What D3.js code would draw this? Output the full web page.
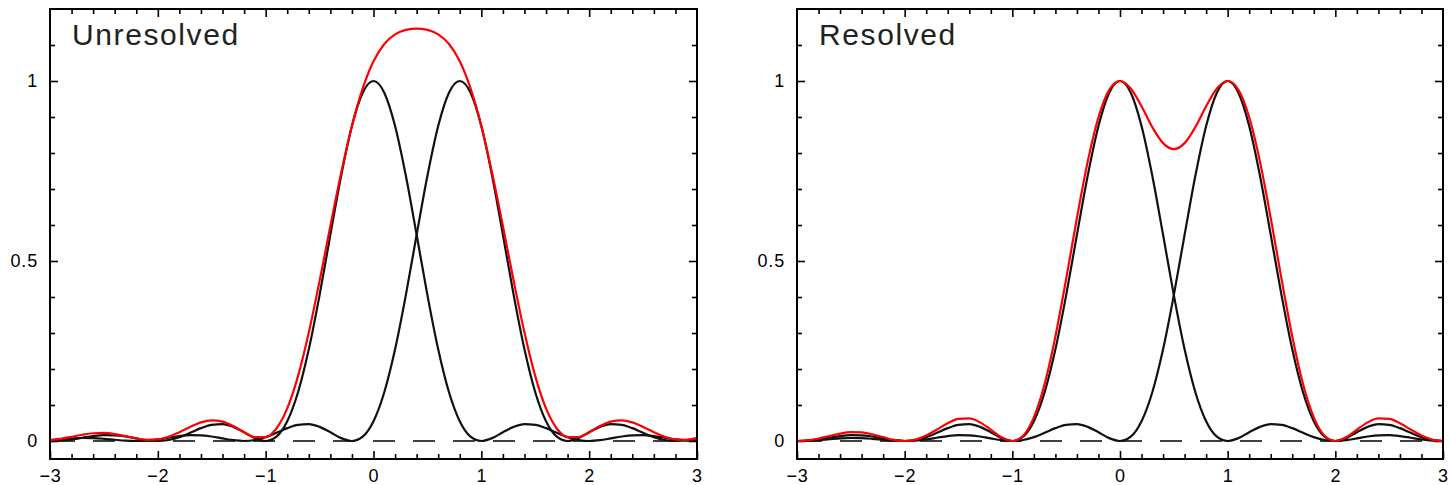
<!DOCTYPE html>
<html>
<head>
<meta charset="utf-8">
<script src="https://cdn.jsdelivr.net/npm/d3@7"></script>
<style>
  body { margin: 0; background: #fff; }
  svg { display: block; }
</style>
</head>
<body>
<div id="chart"></div>
<script>
// Sample positions along the x axis (shared by every curve)
const xs = [
  -3.0, -2.9, -2.8, -2.7, -2.6, -2.5, -2.4, -2.3, -2.2, -2.1,
  -2.0, -1.9, -1.8, -1.7, -1.6, -1.5, -1.4, -1.3, -1.2, -1.1,
  -1.0, -0.9, -0.8, -0.7, -0.6, -0.5, -0.4, -0.3, -0.2, -0.1,
  0.0,
  0.1, 0.2, 0.3, 0.4, 0.5, 0.6, 0.7, 0.8, 0.9, 1.0,
  1.1, 1.2, 1.3, 1.4, 1.5, 1.6, 1.7, 1.8, 1.9, 2.0,
  2.1, 2.2, 2.3, 2.4, 2.5, 2.6, 2.7, 2.8, 2.9, 3.0,
];

// Pattern centred on 0 (used in both panels)
const centred = [
  0, 0.0012, 0.0045, 0.0091, 0.0136, 0.0162, 0.0159, 0.0125, 0.0072, 0.0022,
  0, 0.0027, 0.0108, 0.0229, 0.0358, 0.0450, 0.0468, 0.0392, 0.0243, 0.0080,
  0, 0.0119, 0.0547, 0.1353, 0.2546, 0.4053, 0.5728, 0.7368, 0.8751, 0.9675,
  1,
  0.9675, 0.8751, 0.7368, 0.5728, 0.4053, 0.2546, 0.1353, 0.0547, 0.0119, 0,
  0.0080, 0.0243, 0.0392, 0.0468, 0.0450, 0.0358, 0.0229, 0.0108, 0.0027, 0,
  0.0022, 0.0072, 0.0125, 0.0159, 0.0162, 0.0136, 0.0091, 0.0045, 0.0012, 0,
];

// Second pattern, centred on 0.8 (unresolved)
const shifted08 = [
  0.0024, 0.0048, 0.0071, 0.0083, 0.0079, 0.0061, 0.0034, 0.0010, 0, 0.0012,
  0.0045, 0.0091, 0.0136, 0.0162, 0.0159, 0.0125, 0.0072, 0.0022, 0, 0.0027,
  0.0108, 0.0229, 0.0358, 0.0450, 0.0468, 0.0392, 0.0243, 0.0080, 0, 0.0119,
  0.0547,
  0.1353, 0.2546, 0.4053, 0.5728, 0.7368, 0.8751, 0.9675, 1, 0.9675, 0.8751,
  0.7368, 0.5728, 0.4053, 0.2546, 0.1353, 0.0547, 0.0119, 0, 0.0080, 0.0243,
  0.0392, 0.0468, 0.0450, 0.0358, 0.0229, 0.0108, 0.0027, 0, 0.0022, 0.0072,
];

// Sum of both patterns (unresolved)
const sumUnresolved = [
  0.0024, 0.0060, 0.0116, 0.0174, 0.0215, 0.0223, 0.0193, 0.0135, 0.0072, 0.0034,
  0.0045, 0.0118, 0.0244, 0.0391, 0.0517, 0.0575, 0.0540, 0.0414, 0.0243, 0.0107,
  0.0108, 0.0348, 0.0905, 0.1803, 0.3014, 0.4445, 0.5971, 0.7448, 0.8751, 0.9794,
  1.0547,
  1.1028, 1.1297, 1.1421, 1.1456, 1.1421, 1.1297, 1.1028, 1.0547, 0.9794, 0.8751,
  0.7448, 0.5971, 0.4445, 0.3014, 0.1803, 0.0905, 0.0348, 0.0108, 0.0107, 0.0243,
  0.0414, 0.0540, 0.0575, 0.0517, 0.0391, 0.0244, 0.0118, 0.0045, 0.0034, 0.0072,
];

// Second pattern, centred on 1 (resolved)
const shifted10 = [
  0, 0.0006, 0.0024, 0.0048, 0.0071, 0.0083, 0.0079, 0.0061, 0.0034, 0.0010,
  0, 0.0012, 0.0045, 0.0091, 0.0136, 0.0162, 0.0159, 0.0125, 0.0072, 0.0022,
  0, 0.0027, 0.0108, 0.0229, 0.0358, 0.0450, 0.0468, 0.0392, 0.0243, 0.0080,
  0,
  0.0119, 0.0547, 0.1353, 0.2546, 0.4053, 0.5728, 0.7368, 0.8751, 0.9675, 1,
  0.9675, 0.8751, 0.7368, 0.5728, 0.4053, 0.2546, 0.1353, 0.0547, 0.0119, 0,
  0.0080, 0.0243, 0.0392, 0.0468, 0.0450, 0.0358, 0.0229, 0.0108, 0.0027, 0,
];

// Sum of both patterns (resolved)
const sumResolved = [
  0, 0.0018, 0.0069, 0.0139, 0.0207, 0.0245, 0.0238, 0.0186, 0.0106, 0.0032,
  0, 0.0039, 0.0153, 0.0320, 0.0494, 0.0612, 0.0627, 0.0517, 0.0315, 0.0102,
  0, 0.0146, 0.0655, 0.1582, 0.2904, 0.4503, 0.6196, 0.7760, 0.8994, 0.9755,
  1,
  0.9794, 0.9298, 0.8721, 0.8274, 0.8106, 0.8274, 0.8721, 0.9298, 0.9794, 1,
  0.9755, 0.8994, 0.7760, 0.6196, 0.4503, 0.2904, 0.1582, 0.0655, 0.0146, 0,
  0.0102, 0.0315, 0.0517, 0.0627, 0.0612, 0.0494, 0.0320, 0.0153, 0.0039, 0,
];

// Tick values
const xMajorTicks = [-3, -2, -1, 0, 1, 2, 3];
const xMinorTicks = [-2.8, -2.6, -2.4, -2.2, -1.8, -1.6, -1.4, -1.2, -0.8, -0.6, -0.4, -0.2,
  0.2, 0.4, 0.6, 0.8, 1.2, 1.4, 1.6, 1.8, 2.2, 2.4, 2.6, 2.8];
const yMajorTicks = [0, 0.5, 1];
const yMinorTicks = [0.1, 0.2, 0.3, 0.4, 0.6, 0.7, 0.8, 0.9, 1.1];

// Panel titles
const titles = ["Unresolved", "Resolved"];

const width = 1449;
const height = 485;
const font = "'Liberation Sans', Arial, sans-serif";

const svg = d3.select("#chart")
  .append("svg")
  .attr("width", width)
  .attr("height", height);

// Panel layout (pixel boxes) paired with their series
const panels = [
  { left: 50, right: 697, title: titles[0], second: shifted08, sum: sumUnresolved },
  { left: 797, right: 1443, title: titles[1], second: shifted10, sum: sumResolved },
];

const plotTop = 9;
const plotBottom = 459;

function styleAxis(g, labels) {
  // Frame is drawn separately, so drop the domain path
  g.select(".domain").remove();
  g.selectAll(".tick line").attr("stroke", "#000").attr("stroke-width", 1.6);
  if (labels) {
    g.selectAll(".tick text")
      .attr("fill", "#000")
      .attr("font-family", font)
      .attr("font-size", 18)
      .attr("letter-spacing", "0.8px");
  } else {
    g.selectAll(".tick text").remove();
  }
}

function drawPanel(panel) {
  const x = d3.scaleLinear().domain([-3, 3]).range([panel.left, panel.right]);
  const y = d3.scaleLinear().domain([-0.05, 1.2]).range([plotBottom, plotTop]);

  const g = svg.append("g");

  // Bottom axis, major ticks with labels
  g.append("g")
    .attr("transform", `translate(0,${plotBottom})`)
    .call(d3.axisBottom(x).tickValues(xMajorTicks).tickSizeInner(-8).tickSizeOuter(0)
      .tickPadding(10).tickFormat(d3.format("")))
    .call(styleAxis, true);

  // Bottom axis, minor ticks
  g.append("g")
    .attr("transform", `translate(0,${plotBottom})`)
    .call(d3.axisBottom(x).tickValues(xMinorTicks).tickSizeInner(-5).tickSizeOuter(0))
    .call(styleAxis, false);

  // Top axis, ticks only
  g.append("g")
    .attr("transform", `translate(0,${plotTop})`)
    .call(d3.axisTop(x).tickValues(xMajorTicks.slice(1, -1)).tickSizeInner(-8).tickSizeOuter(0))
    .call(styleAxis, false);
  g.append("g")
    .attr("transform", `translate(0,${plotTop})`)
    .call(d3.axisTop(x).tickValues(xMinorTicks).tickSizeInner(-5).tickSizeOuter(0))
    .call(styleAxis, false);

  // Left axis with labels
  g.append("g")
    .attr("transform", `translate(${panel.left},0)`)
    .call(d3.axisLeft(y).tickValues(yMajorTicks).tickSizeInner(-8).tickSizeOuter(0)
      .tickPadding(12).tickFormat(d3.format("")))
    .call(styleAxis, true);
  g.append("g")
    .attr("transform", `translate(${panel.left},0)`)
    .call(d3.axisLeft(y).tickValues(yMinorTicks).tickSizeInner(-5).tickSizeOuter(0))
    .call(styleAxis, false);

  // Right axis, ticks only
  g.append("g")
    .attr("transform", `translate(${panel.right},0)`)
    .call(d3.axisRight(y).tickValues(yMajorTicks).tickSizeInner(-8).tickSizeOuter(0))
    .call(styleAxis, false);
  g.append("g")
    .attr("transform", `translate(${panel.right},0)`)
    .call(d3.axisRight(y).tickValues(yMinorTicks).tickSizeInner(-5).tickSizeOuter(0))
    .call(styleAxis, false);

  // Dashed zero line
  g.append("line")
    .attr("x1", x(-3))
    .attr("x2", x(3))
    .attr("y1", y(0))
    .attr("y2", y(0))
    .attr("stroke", "#000")
    .attr("stroke-width", 1.7)
    .attr("stroke-dasharray", "22,18")
    .attr("stroke-dashoffset", 37);

  const line = d3.line()
    .x((d, i) => x(xs[i]))
    .y((d) => y(d))
    .curve(d3.curveMonotoneX);

  // Individual patterns in black
  for (let series of [centred, panel.second]) {
    g.append("path")
      .attr("d", line(series))
      .attr("fill", "none")
      .attr("stroke", "#111")
      .attr("stroke-width", 2.2);
  }

  // Combined pattern in red, on top
  g.append("path")
    .attr("d", line(panel.sum))
    .attr("fill", "none")
    .attr("stroke", "#ff0000")
    .attr("stroke-width", 2.2);

  // Frame
  g.append("rect")
    .attr("x", panel.left)
    .attr("y", plotTop)
    .attr("width", panel.right - panel.left)
    .attr("height", plotBottom - plotTop)
    .attr("fill", "none")
    .attr("stroke", "#000")
    .attr("stroke-width", 2);

  // Title
  g.append("text")
    .attr("x", panel.left + 22)
    .attr("y", 45)
    .attr("font-family", font)
    .attr("font-size", 30)
    .attr("letter-spacing", "1.6px")
    .attr("fill", "#222")
    .text(panel.title);
}

for (let panel of panels) {
  drawPanel(panel);
}
</script>
</body>
</html>
